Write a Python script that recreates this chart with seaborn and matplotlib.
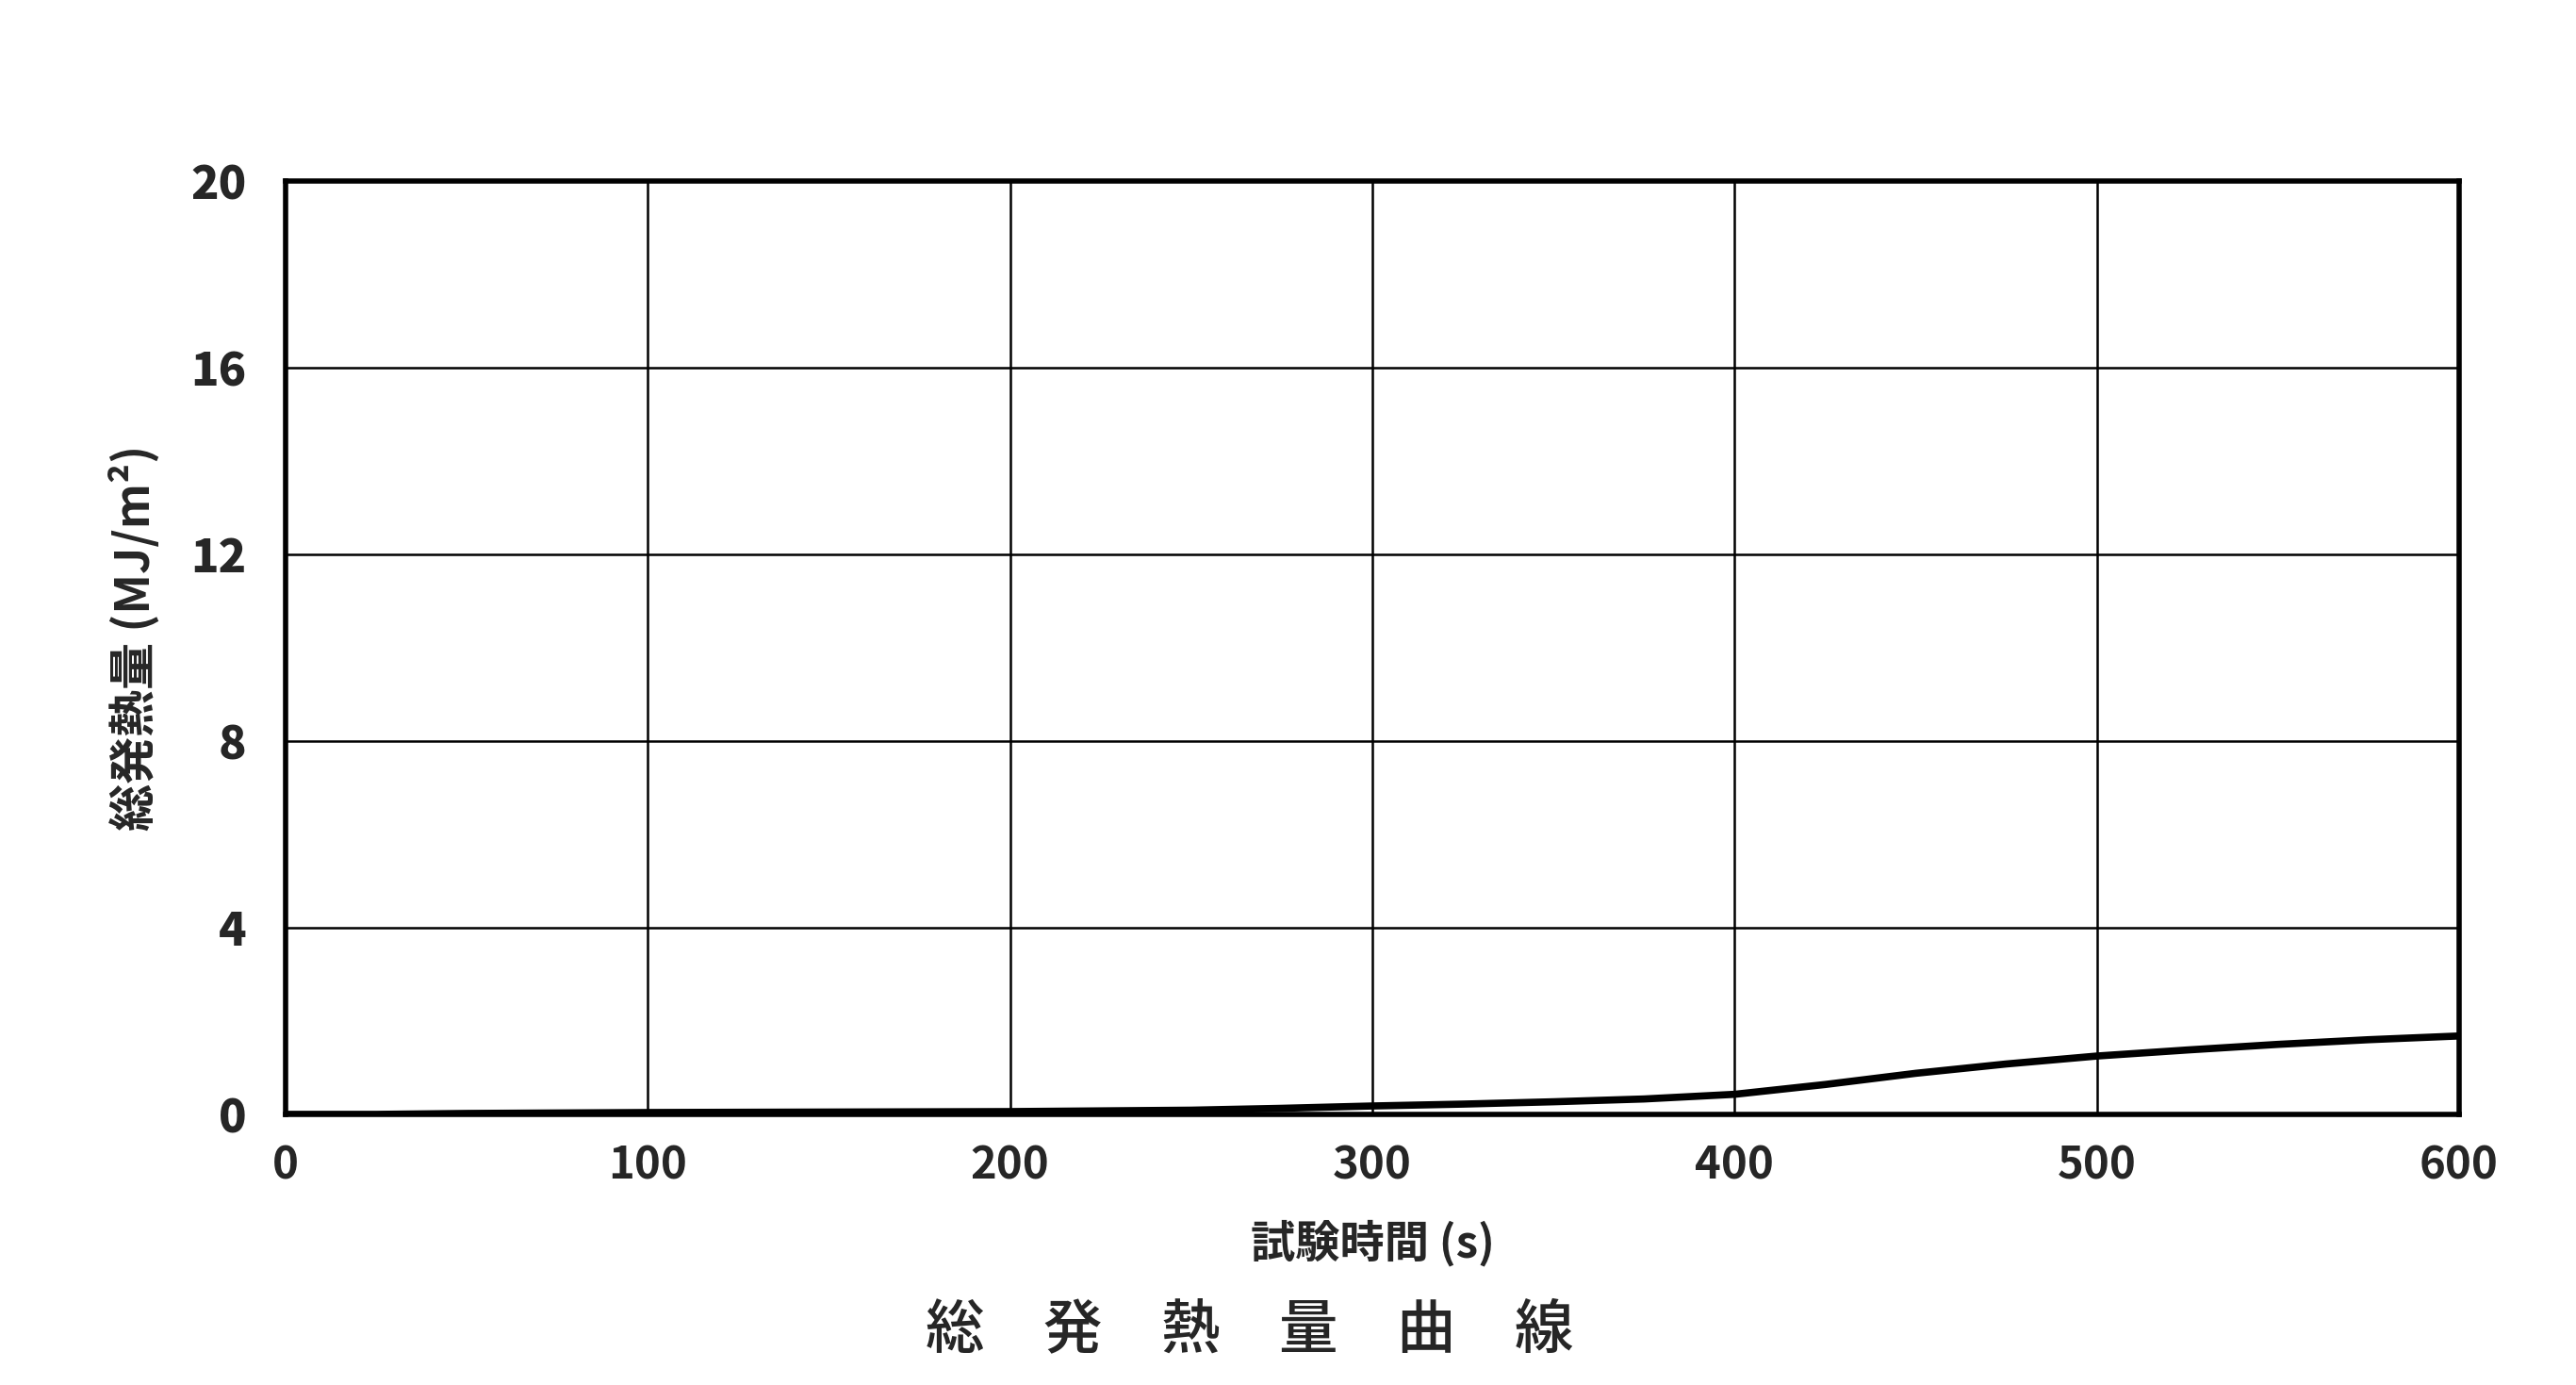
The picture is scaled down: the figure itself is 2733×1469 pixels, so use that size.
import matplotlib
matplotlib.use("Agg")
import matplotlib.pyplot as plt
import seaborn as sns
import pandas as pd

time_s = [0, 25, 50, 100, 150, 200, 250, 275, 300, 325, 350, 375, 400, 425, 450, 475, 500, 525, 550, 575, 600]
total_heat = [0.0, 0.0, 0.02, 0.04, 0.05, 0.06, 0.09, 0.13, 0.18, 0.22, 0.27, 0.33, 0.43, 0.64, 0.88, 1.08, 1.25, 1.38, 1.50, 1.60, 1.68]
x_ticks = [0, 100, 200, 300, 400, 500, 600]
y_ticks = [0, 4, 8, 12, 16, 20]

sns.set_theme(style="white")
plt.rcParams['font.family'] = ['Noto Sans CJK JP', 'DejaVu Sans']

fig = plt.figure(figsize=(27.33, 14.69), dpi=100)
ax = fig.add_axes([0.1109, 0.1954, 0.8437, 0.6739])

df = pd.DataFrame({"t": time_s, "q": total_heat})
sns.lineplot(data=df, x="t", y="q", ax=ax, color="black", linewidth=5.5)

ax.set_xlim(0, 600)
ax.set_ylim(0, 20)
ax.set_xticks(x_ticks)
ax.set_yticks(y_ticks)
ax.set_xticklabels([str(v) for v in x_ticks], fontsize=34, fontweight="bold")
ax.set_yticklabels([str(v) for v in y_ticks], fontsize=35, fontweight="black")
ax.tick_params(axis="x", length=0, pad=22)
ax.tick_params(axis="y", length=0, pad=30)
ax.grid(True, color="black", linewidth=1.8)
for s in ax.spines.values():
    s.set_color("black")
    s.set_linewidth(4)

ax.set_xlabel("試験時間 (s)", fontsize=34, fontweight="bold", labelpad=24)
ax.set_ylabel("総発熱量 (MJ/m²)", fontsize=36, fontweight="bold")
ax.yaxis.set_label_coords(-0.058, 0.511)

fig.text(0.485, 0.039, "総　発　熱　量　曲　線", fontsize=45, fontweight="medium", ha="center", va="center")

fig.savefig("out.png", dpi=100, facecolor="white")
